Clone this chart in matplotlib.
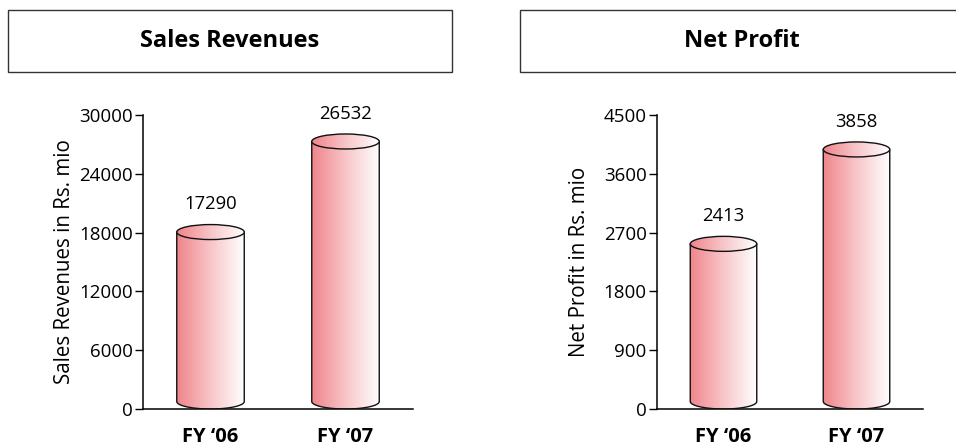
import numpy as np
import matplotlib
matplotlib.use("Agg")
import matplotlib.pyplot as plt
from matplotlib.patches import Rectangle, Ellipse, PathPatch
from matplotlib.path import Path
from matplotlib.colors import LinearSegmentedColormap

plt.rcParams['font.family'] = ['Open Sans', 'DejaVu Sans']

# data
years = ['FY \u201806', 'FY \u201807']
sales = [17290, 26532]
profit = [2413, 3858]
sales_ticks = [0, 6000, 12000, 18000, 24000, 30000]
profit_ticks = [0, 900, 1800, 2700, 3600, 4500]

pink = LinearSegmentedColormap.from_list('pink', ['#ef858b', '#f8c6c9', '#ffffff'])
grad = np.linspace(0, 1, 256).reshape(1, -1)


def cylinder(ax, x, h, w, ry):
    # body: sides + lower half of the bottom ellipse
    t = np.linspace(np.pi, 2 * np.pi, 60)
    arc = np.column_stack([x + w / 2 * np.cos(t), ry + ry * np.sin(t)])
    verts = np.vstack([[x - w / 2, h + ry], arc, [x + w / 2, h + ry], [x - w / 2, h + ry]])
    body = PathPatch(Path(verts, closed=True), facecolor='none', edgecolor='#111111', lw=1.0, zorder=3)
    ax.add_patch(body)
    im = ax.imshow(grad, extent=[x - w / 2, x + w / 2, 0, h + 2 * ry], aspect='auto',
                   cmap=pink, zorder=2, interpolation='bilinear')
    im.set_clip_path(body)
    # top
    top = Ellipse((x, h + ry), w, 2 * ry, facecolor='none', edgecolor='#111111', lw=1.0, zorder=5)
    ax.add_patch(top)
    im2 = ax.imshow(grad, extent=[x - w / 2, x + w / 2, h, h + 2 * ry], aspect='auto',
                    cmap=pink, zorder=4, interpolation='bilinear')
    im2.set_clip_path(top)
    ax.annotate(f'{h}', (x, h + 2 * ry), xytext=(0, 8), textcoords='offset points',
                ha='center', va='bottom', fontsize=13.3)


def panel(rect, vals, ticks, ylabel, title, box, lx):
    ax = fig.add_axes(rect)
    top = ticks[-1]
    ry = top * 7.5 / 294
    for i, v in enumerate(vals):
        cylinder(ax, i, v, 0.5, ry)
    ax.set_xlim(-0.5, 1.5)
    ax.set_ylim(0, top)
    ax.set_yticks(ticks)
    ax.tick_params(axis='y', labelsize=13.5, length=6, width=1, pad=1.5)
    ax.set_xticks(range(len(years)))
    ax.set_xticklabels(years, fontsize=14.5, fontweight='bold')
    ax.tick_params(axis='x', length=0, pad=13)
    for s in ['top', 'right']:
        ax.spines[s].set_visible(False)
    for s in ['left', 'bottom']:
        ax.spines[s].set_linewidth(1.1)
    ax.set_ylabel(ylabel, fontsize=14.8)
    ax.yaxis.set_label_coords(lx, 0.5)
    # title box
    fig.patches.append(Rectangle((box / 956, 1 - 72 / 446), 444 / 956, 62 / 446,
                                 transform=fig.transFigure, facecolor='white',
                                 edgecolor='#333333', lw=1.0))
    fig.text((box + 222) / 956, 1 - 41 / 446, title, ha='center', va='center',
             fontsize=17, fontweight='bold')
    return ax


fig = plt.figure(figsize=(9.56, 4.46), dpi=100)
panel([143 / 956, 1 - 409 / 446, 270 / 956, 294 / 446], sales, sales_ticks,
      'Sales Revenues in Rs. mio', 'Sales Revenues', 8, -(143 - 75) / 270)
panel([657 / 956, 1 - 409 / 446, 266 / 956, 294 / 446], profit, profit_ticks,
      'Net Profit in Rs. mio', 'Net Profit', 520, -(657 - 590) / 266)

fig.savefig('out.png', dpi=100)
